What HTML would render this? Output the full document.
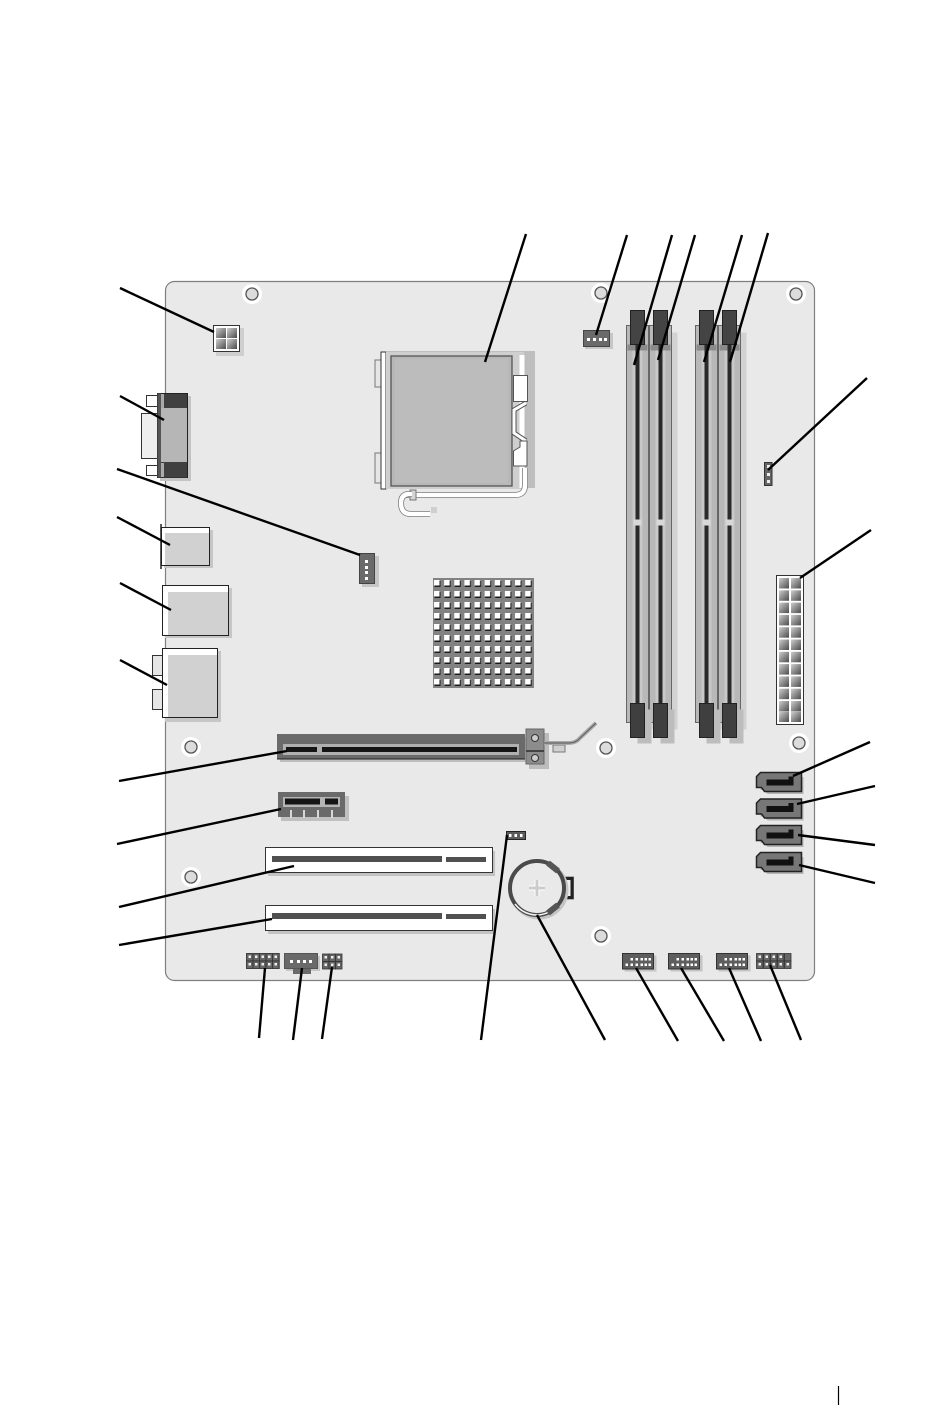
<!DOCTYPE html>
<html><head><meta charset="utf-8"><title>Motherboard diagram</title>
<style>html,body{margin:0;padding:0;background:#fff}svg{display:block}</style></head>
<body>
<svg xmlns="http://www.w3.org/2000/svg" width="950" height="1414" viewBox="0 0 950 1414">
<defs>
<pattern id="hs" x="433" y="578" width="10.13" height="11" patternUnits="userSpaceOnUse">
 <rect width="10.13" height="11" fill="#828282"/>
 <rect x="1.5" y="3" width="6" height="6" fill="#1c1c1c"/>
 <rect x="1" y="2" width="5.5" height="5.5" fill="#fff"/>
</pattern>
<linearGradient id="pin" x1="0" y1="0" x2="1" y2="1"><stop offset="0" stop-color="#cfcfcf"/><stop offset=".5" stop-color="#8c8c8c"/><stop offset="1" stop-color="#4c4c4c"/></linearGradient>
<g id="hole"><circle r="10" fill="#fff"/><circle r="6" fill="#dcdcdc" stroke="#555" stroke-width="1.3"/></g>
<g id="bclip"><rect x="7" y="6" width="14" height="34" fill="#bdbdbd"/><rect width="14" height="34" fill="#3f3f3f" stroke="#222"/></g>
<g id="slot">
 <rect x="6" y="7" width="22" height="397" fill="#d2d2d2"/>
 <rect width="22" height="397" fill="#b8b8b8" stroke="#666"/>
 <rect x="6" width="10" height="397" fill="#c8c8c8"/>
 <rect x="1" y="19" width="20" height="6" fill="#8a8a8a"/>
 <rect x="9" y="15" width="4" height="370" fill="#2a2a2a"/>
 <rect x="7" y="194" width="8" height="6" fill="#d8d8d8"/>
</g>
<g id="sata">
 <path d="M2 3H45V20H9L5 16H2Z" fill="#b5b5b5" transform="translate(2,1.5)"/>
 <path d="M4 0H45V19H8L5 15H0V4Z" fill="#777" stroke="#222" stroke-width="1.5"/>
 <path d="M10 7H32V4H37V13H10Z" fill="#111"/>
</g>
<g id="hdr">
 <rect x="2" y="2" width="32" height="16" fill="#c4c4c4"/>
 <rect width="31" height="15.5" fill="#5e5e5e" stroke="#333"/>
 <g fill="#fff"><rect x="8" y="4.500" width="2.500" height="2.500"/><rect x="13" y="4.500" width="2.500" height="2.500"/><rect x="18" y="4.500" width="2.500" height="2.500"/><rect x="22" y="4.500" width="2.500" height="2.500"/><rect x="26" y="4.500" width="2.500" height="2.500"/>
 <rect x="3" y="10" width="2.500" height="2.500"/><rect x="8" y="10" width="2.500" height="2.500"/><rect x="13" y="10" width="2.500" height="2.500"/><rect x="18" y="10" width="2.500" height="2.500"/><rect x="22" y="10" width="2.500" height="2.500"/><rect x="26" y="10" width="2.500" height="2.500"/></g>
</g>
<g id="cell"><rect width="6.5" height="7.5" fill="#666" stroke="#333" stroke-width=".8"/><rect x="2" y="2" width="2.5" height="2.5" fill="#eee"/></g>
</defs>

<!-- board -->
<rect x="165.5" y="281.5" width="649" height="699" rx="9" fill="#e9e9e9" stroke="#7f7f7f" stroke-width="1.2"/>

<!-- mounting holes -->
<use href="#hole" x="252" y="294"/><use href="#hole" x="601" y="293"/><use href="#hole" x="796" y="294"/>
<use href="#hole" x="191" y="747"/><use href="#hole" x="606" y="748"/><use href="#hole" x="799" y="743"/>
<use href="#hole" x="191" y="877"/><use href="#hole" x="601" y="936"/>

<!-- 4 pin power -->
<rect x="216" y="328" width="28" height="28" fill="#cfcfcf"/>
<rect x="213.5" y="325.5" width="26" height="26" fill="#fff" stroke="#333"/>
<rect x="216" y="328" width="10" height="10" fill="url(#pin)"/><rect x="227" y="328" width="10" height="10" fill="url(#pin)"/>
<rect x="216" y="339" width="10" height="10" fill="url(#pin)"/><rect x="227" y="339" width="10" height="10" fill="url(#pin)"/>

<!-- CPU socket -->
<rect x="387" y="351" width="148" height="137" fill="#bebebe"/>
<rect x="375" y="360" width="8" height="27" fill="#e6e6e6" stroke="#777"/>
<rect x="375" y="453" width="8" height="30" fill="#e6e6e6" stroke="#777"/>
<rect x="381" y="352" width="5" height="137" fill="#fff" stroke="#333"/>
<rect x="386" y="352" width="138" height="137" fill="#cfcfcf"/>
<rect x="391" y="356" width="121" height="130" fill="#b7b7b7" stroke="#555" stroke-width="1.3"/>
<rect x="395" y="359" width="113" height="124" fill="#bcbcbc"/>
<path d="M522 355V488" stroke="#fff" stroke-width="5"/>
<rect x="513.5" y="375.5" width="14" height="26" fill="#fff" stroke="#555"/>
<path d="M526 403L514 410V433L526 441" fill="none" stroke="#555" stroke-width="5"/>
<path d="M526 403L514 410V433L526 441" fill="none" stroke="#fff" stroke-width="3"/>
<path d="M520 441H527V466H513.5V451L520 447Z" fill="#fff" stroke="#555"/>
<path d="M405 495H515Q525 495 525 485V468" fill="none" stroke="#777" stroke-width="6"/>
<path d="M405 495H515Q525 495 525 485V468" fill="none" stroke="#fff" stroke-width="4.500"/>
<rect x="410" y="490" width="6" height="10" fill="#d5d5d5" stroke="#777"/>
<path d="M412 494H408Q401 495 401 503Q401 514 411 514H430" fill="none" stroke="#777" stroke-width="6"/>
<path d="M412 494H408Q401 495 401 503Q401 514 411 514H430" fill="none" stroke="#fff" stroke-width="4.500"/>
<rect x="431" y="507" width="6" height="6" fill="#cfcfcf"/>

<!-- CPU fan connector -->
<rect x="585" y="333" width="28" height="16" fill="#c6c6c6"/>
<rect x="583.5" y="330.5" width="26" height="16" fill="#6a6a6a" stroke="#444"/>
<g fill="#fff"><rect x="587" y="338" width="3" height="3"/><rect x="593" y="338" width="3" height="3"/><rect x="599" y="338" width="3" height="3"/><rect x="604" y="338" width="3" height="3"/></g>

<!-- memory -->
<use href="#slot" x="626.5" y="325.5"/><use href="#slot" x="649.5" y="325.5"/>
<use href="#slot" x="695.5" y="325.5"/><use href="#slot" x="718.5" y="325.5"/>
<g fill="#444" stroke="#222">
<rect x="630.5" y="310.5" width="14" height="34"/><rect x="653.5" y="310.5" width="14" height="34"/>
<rect x="699.5" y="310.5" width="14" height="34"/><rect x="722.5" y="310.5" width="14" height="34"/></g>
<use href="#bclip" x="630.5" y="703.5"/><use href="#bclip" x="653.5" y="703.5"/>
<use href="#bclip" x="699.5" y="703.5"/><use href="#bclip" x="722.5" y="703.5"/>

<!-- jumper -->
<rect x="764.5" y="462.5" width="7.5" height="23" fill="#666" stroke="#333"/>
<g fill="#eee"><rect x="767" y="465" width="3" height="3"/><rect x="767" y="473" width="3" height="3"/><rect x="767" y="480" width="3" height="3"/></g>

<!-- 24 pin -->
<rect x="776.5" y="575.5" width="27" height="149" fill="#fff" stroke="#333"/>
<g fill="url(#pin)">
<rect x="779" y="578" width="10" height="10.5"/><rect x="791" y="578" width="10" height="10.5"/>
<rect x="779" y="590.3" width="10" height="10.5"/><rect x="791" y="590.3" width="10" height="10.5"/>
<rect x="779" y="602.6" width="10" height="10.5"/><rect x="791" y="602.6" width="10" height="10.5"/>
<rect x="779" y="614.9" width="10" height="10.5"/><rect x="791" y="614.9" width="10" height="10.5"/>
<rect x="779" y="627.2" width="10" height="10.5"/><rect x="791" y="627.2" width="10" height="10.5"/>
<rect x="779" y="639.5" width="10" height="10.5"/><rect x="791" y="639.5" width="10" height="10.5"/>
<rect x="779" y="651.8" width="10" height="10.5"/><rect x="791" y="651.8" width="10" height="10.5"/>
<rect x="779" y="664.1" width="10" height="10.5"/><rect x="791" y="664.1" width="10" height="10.5"/>
<rect x="779" y="676.4" width="10" height="10.5"/><rect x="791" y="676.4" width="10" height="10.5"/>
<rect x="779" y="688.7" width="10" height="10.5"/><rect x="791" y="688.7" width="10" height="10.5"/>
<rect x="779" y="701" width="10" height="10.5"/><rect x="791" y="701" width="10" height="10.5"/>
<rect x="779" y="712" width="10" height="10"/><rect x="791" y="712" width="10" height="10"/>
</g>

<!-- heatsink -->
<rect x="433" y="578" width="101" height="110" fill="url(#hs)"/>

<!-- rear ports -->
<rect x="160" y="396" width="31" height="85" fill="#c4c4c4"/>
<rect x="146.5" y="395.5" width="11" height="11" fill="#fff" stroke="#333"/>
<rect x="146.5" y="465.5" width="11" height="10" fill="#fff" stroke="#333"/>
<rect x="141.5" y="413.5" width="16" height="45" fill="#eee" stroke="#333"/>
<rect x="157.5" y="393.5" width="30" height="84" fill="#b6b6b6" stroke="#222"/>
<rect x="158" y="394" width="29" height="14" fill="#404040"/>
<rect x="158" y="462" width="29" height="15.500" fill="#404040"/>
<rect x="157.500" y="393.5" width="3.500" height="84" fill="#555"/>
<rect x="161" y="394" width="3" height="14" fill="#aaa"/><rect x="161" y="463" width="3" height="14" fill="#aaa"/>

<rect x="164" y="530" width="49" height="38" fill="#c6c6c6"/>
<rect x="161.500" y="527.500" width="48" height="38" fill="#fff" stroke="#222"/>
<rect x="165" y="533" width="44" height="32" fill="#d1d1d1"/>
<path d="M161 524V569" stroke="#222" stroke-width="1.5"/>

<rect x="165" y="588" width="67" height="50" fill="#c6c6c6"/>
<rect x="162.500" y="585.500" width="66" height="50" fill="#fff" stroke="#222"/>
<rect x="168" y="592" width="60" height="43" fill="#d1d1d1"/>

<rect x="165" y="651" width="56" height="71" fill="#c6c6c6"/>
<rect x="152.500" y="655.500" width="10" height="20" fill="#e6e6e6" stroke="#333"/>
<rect x="152.500" y="689.500" width="10" height="20" fill="#e6e6e6" stroke="#333"/>
<rect x="162.500" y="648.500" width="55" height="69" fill="#fff" stroke="#222"/>
<rect x="168" y="655" width="49" height="62" fill="#d1d1d1"/>

<!-- 3 pin fan -->
<rect x="362" y="556" width="17" height="31" fill="#c6c6c6"/>
<rect x="359.500" y="553.500" width="15" height="30" fill="#6a6a6a" stroke="#444"/>
<g fill="#fff"><rect x="365" y="560" width="3" height="3"/><rect x="365" y="566" width="3" height="3"/><rect x="365" y="571" width="3" height="3"/><rect x="365" y="577" width="3" height="3"/></g>

<!-- PCIe x16 -->
<rect x="280" y="737" width="248" height="25" fill="#bebebe"/>
<rect x="277" y="734" width="248" height="25" fill="#6a6a6a"/>
<path d="M277 759H525" stroke="#222" stroke-width="1"/>
<rect x="283" y="744" width="236" height="11" fill="#b0b0b0"/>
<rect x="286" y="747" width="31" height="5" fill="#151515"/><rect x="322" y="747" width="195" height="5" fill="#151515"/>
<rect x="529" y="733" width="20" height="36" fill="#bcbcbc"/>
<rect x="526" y="729" width="18" height="35" fill="#8c8c8c" stroke="#666"/>
<rect x="526" y="750" width="18" height="2" fill="#444"/>
<circle cx="535" cy="738" r="3.500" fill="#ccc" stroke="#333"/><circle cx="535" cy="758" r="3.500" fill="#ccc" stroke="#333"/>
<rect x="553" y="745" width="12" height="7" fill="#d0d0d0" stroke="#777"/>
<path d="M544 743H569Q576 743 580 738L596 723" fill="none" stroke="#aaa" stroke-width="4"/>
<path d="M544 743H569Q576 743 580 738L596 723" fill="none" stroke="#666" stroke-width="1.200"/>

<!-- PCIe x1 -->
<rect x="281" y="796" width="68" height="25" fill="#c0c0c0"/>
<rect x="278" y="792" width="67" height="25" fill="#6a6a6a"/>
<rect x="283" y="797" width="57" height="10" fill="#b4b4b4"/>
<rect x="285" y="798.500" width="35" height="6" fill="#151515"/><rect x="325" y="798.500" width="13" height="6" fill="#151515"/>
<g fill="#d8d8d8"><rect x="290" y="810" width="2" height="8"/><rect x="303" y="810" width="2" height="8"/><rect x="317" y="810" width="2" height="8"/><rect x="331" y="810" width="2" height="8"/></g>

<!-- PCI -->
<rect x="268" y="851" width="227" height="25" fill="#c2c2c2"/>
<rect x="265.500" y="847.500" width="227" height="25" fill="#fff" stroke="#333"/>
<rect x="272" y="856" width="170" height="6" fill="#505050"/><rect x="446" y="857" width="40" height="5" fill="#505050"/>
<rect x="268" y="909" width="227" height="25" fill="#c2c2c2"/>
<rect x="265.500" y="905.500" width="227" height="25" fill="#fff" stroke="#333"/>
<rect x="272" y="913" width="170" height="6" fill="#505050"/><rect x="446" y="914" width="40" height="5" fill="#505050"/>

<!-- bottom-left headers -->
<rect x="246" y="953" width="34" height="16" fill="#888"/>
<use href="#cell" x="246.500" y="953.500"/><use href="#cell" x="253" y="953.500"/><use href="#cell" x="259.500" y="953.500"/><use href="#cell" x="266" y="953.500"/><use href="#cell" x="272.500" y="953.500"/>
<use href="#cell" x="246.500" y="961"/><use href="#cell" x="253" y="961"/><use href="#cell" x="259.500" y="961"/><use href="#cell" x="266" y="961"/><use href="#cell" x="272.500" y="961"/>
<rect x="286" y="956" width="34" height="15" fill="#c6c6c6"/>
<rect x="293" y="968" width="18" height="6" fill="#6a6a6a"/>
<rect x="284.500" y="953.500" width="33" height="15" fill="#6a6a6a" stroke="#555"/>
<g fill="#fff"><rect x="290" y="960" width="3" height="3"/><rect x="297" y="960" width="3" height="3"/><rect x="303" y="960" width="3" height="3"/><rect x="309" y="960" width="3" height="3"/></g>
<use href="#cell" x="322.500" y="954"/><use href="#cell" x="329" y="954"/><use href="#cell" x="335.500" y="954"/>
<use href="#cell" x="322.500" y="961.500"/><use href="#cell" x="329" y="961.500"/><use href="#cell" x="335.500" y="961.500"/>

<!-- small jumper -->
<rect x="506.500" y="831.500" width="19" height="8" fill="#5c5c5c" stroke="#222"/>
<g fill="#fff"><rect x="509" y="834" width="2.500" height="3"/><rect x="514.500" y="834" width="2.500" height="3"/><rect x="520" y="834" width="2.500" height="3"/></g>

<!-- battery -->
<rect x="562" y="876.500" width="12" height="23" fill="#777"/>
<path d="M562 878.500H572V897.500H562" fill="#eee" stroke="#222" stroke-width="3"/>
<circle cx="539" cy="890" r="28" fill="none" stroke="#c4c4c4" stroke-width="3"/>
<circle cx="537" cy="888" r="27" fill="#e9e9e9" stroke="#4a4a4a" stroke-width="4"/>
<path d="M515 904A27 27 0 0 0 549 912" fill="none" stroke="#f5f5f5" stroke-width="1.500"/>
<path d="M548 863L558 871M548 913L558 905" stroke="#555" stroke-width="6"/>
<path d="M537 880V896M529 888H545" stroke="#fff" stroke-width="5"/>
<path d="M537 880V896M529 888H545" stroke="#ccc" stroke-width="3"/>

<!-- SATA -->
<use href="#sata" x="756.500" y="772.500"/><use href="#sata" x="756.500" y="799"/>
<use href="#sata" x="756.500" y="825.500"/><use href="#sata" x="756.500" y="852.500"/>

<!-- bottom right headers -->
<use href="#hdr" x="622.500" y="953.500"/><use href="#hdr" x="668.500" y="953.500"/><use href="#hdr" x="716.500" y="953.500"/>
<use href="#cell" x="756.500" y="953.500"/><use href="#cell" x="763.500" y="953.500"/><use href="#cell" x="770.500" y="953.500"/><use href="#cell" x="777.500" y="953.500"/><rect x="784.500" y="953.500" width="6.500" height="7.500" fill="#666" stroke="#333" stroke-width=".8"/>
<use href="#cell" x="756.500" y="961"/><use href="#cell" x="763.500" y="961"/><use href="#cell" x="770.500" y="961"/><use href="#cell" x="777.500" y="961"/><use href="#cell" x="784.500" y="961"/>

<!-- leader lines -->
<g stroke="#000" stroke-width="2.400" fill="none">
<path d="M526 234L485 362"/><path d="M627 235L596 335"/><path d="M672 235L634 365"/><path d="M695 235L658 360"/>
<path d="M742 235L704 362"/><path d="M768 233L730 362"/><path d="M867 378L768 470"/><path d="M871 530L800 578"/>
<path d="M870 742L793 776"/><path d="M875 786L797 804"/><path d="M875 845L798 835"/><path d="M875 883L799 865"/>
<path d="M801 1040L770 965"/><path d="M761 1041L729 968"/><path d="M724 1041L681 968"/><path d="M678 1041L636 968"/>
<path d="M605 1040L537 915"/><path d="M481 1040L507 835"/><path d="M322 1039L332 967"/><path d="M293 1040L302 968"/>
<path d="M259 1038L265 968"/><path d="M119 945L272 919"/><path d="M119 907L294 866"/><path d="M117 844L281 809"/>
<path d="M119 781L287 751"/><path d="M120 660L167 685"/><path d="M120 583L171 610"/><path d="M117 517L170 545"/>
<path d="M117 469L360 555"/><path d="M120 396L164 420"/><path d="M120 288L214 332"/>
</g>

<!-- page mark -->
<path d="M838.500 1386V1405" stroke="#000" stroke-width="1.200"/>
</svg>
</body></html>
